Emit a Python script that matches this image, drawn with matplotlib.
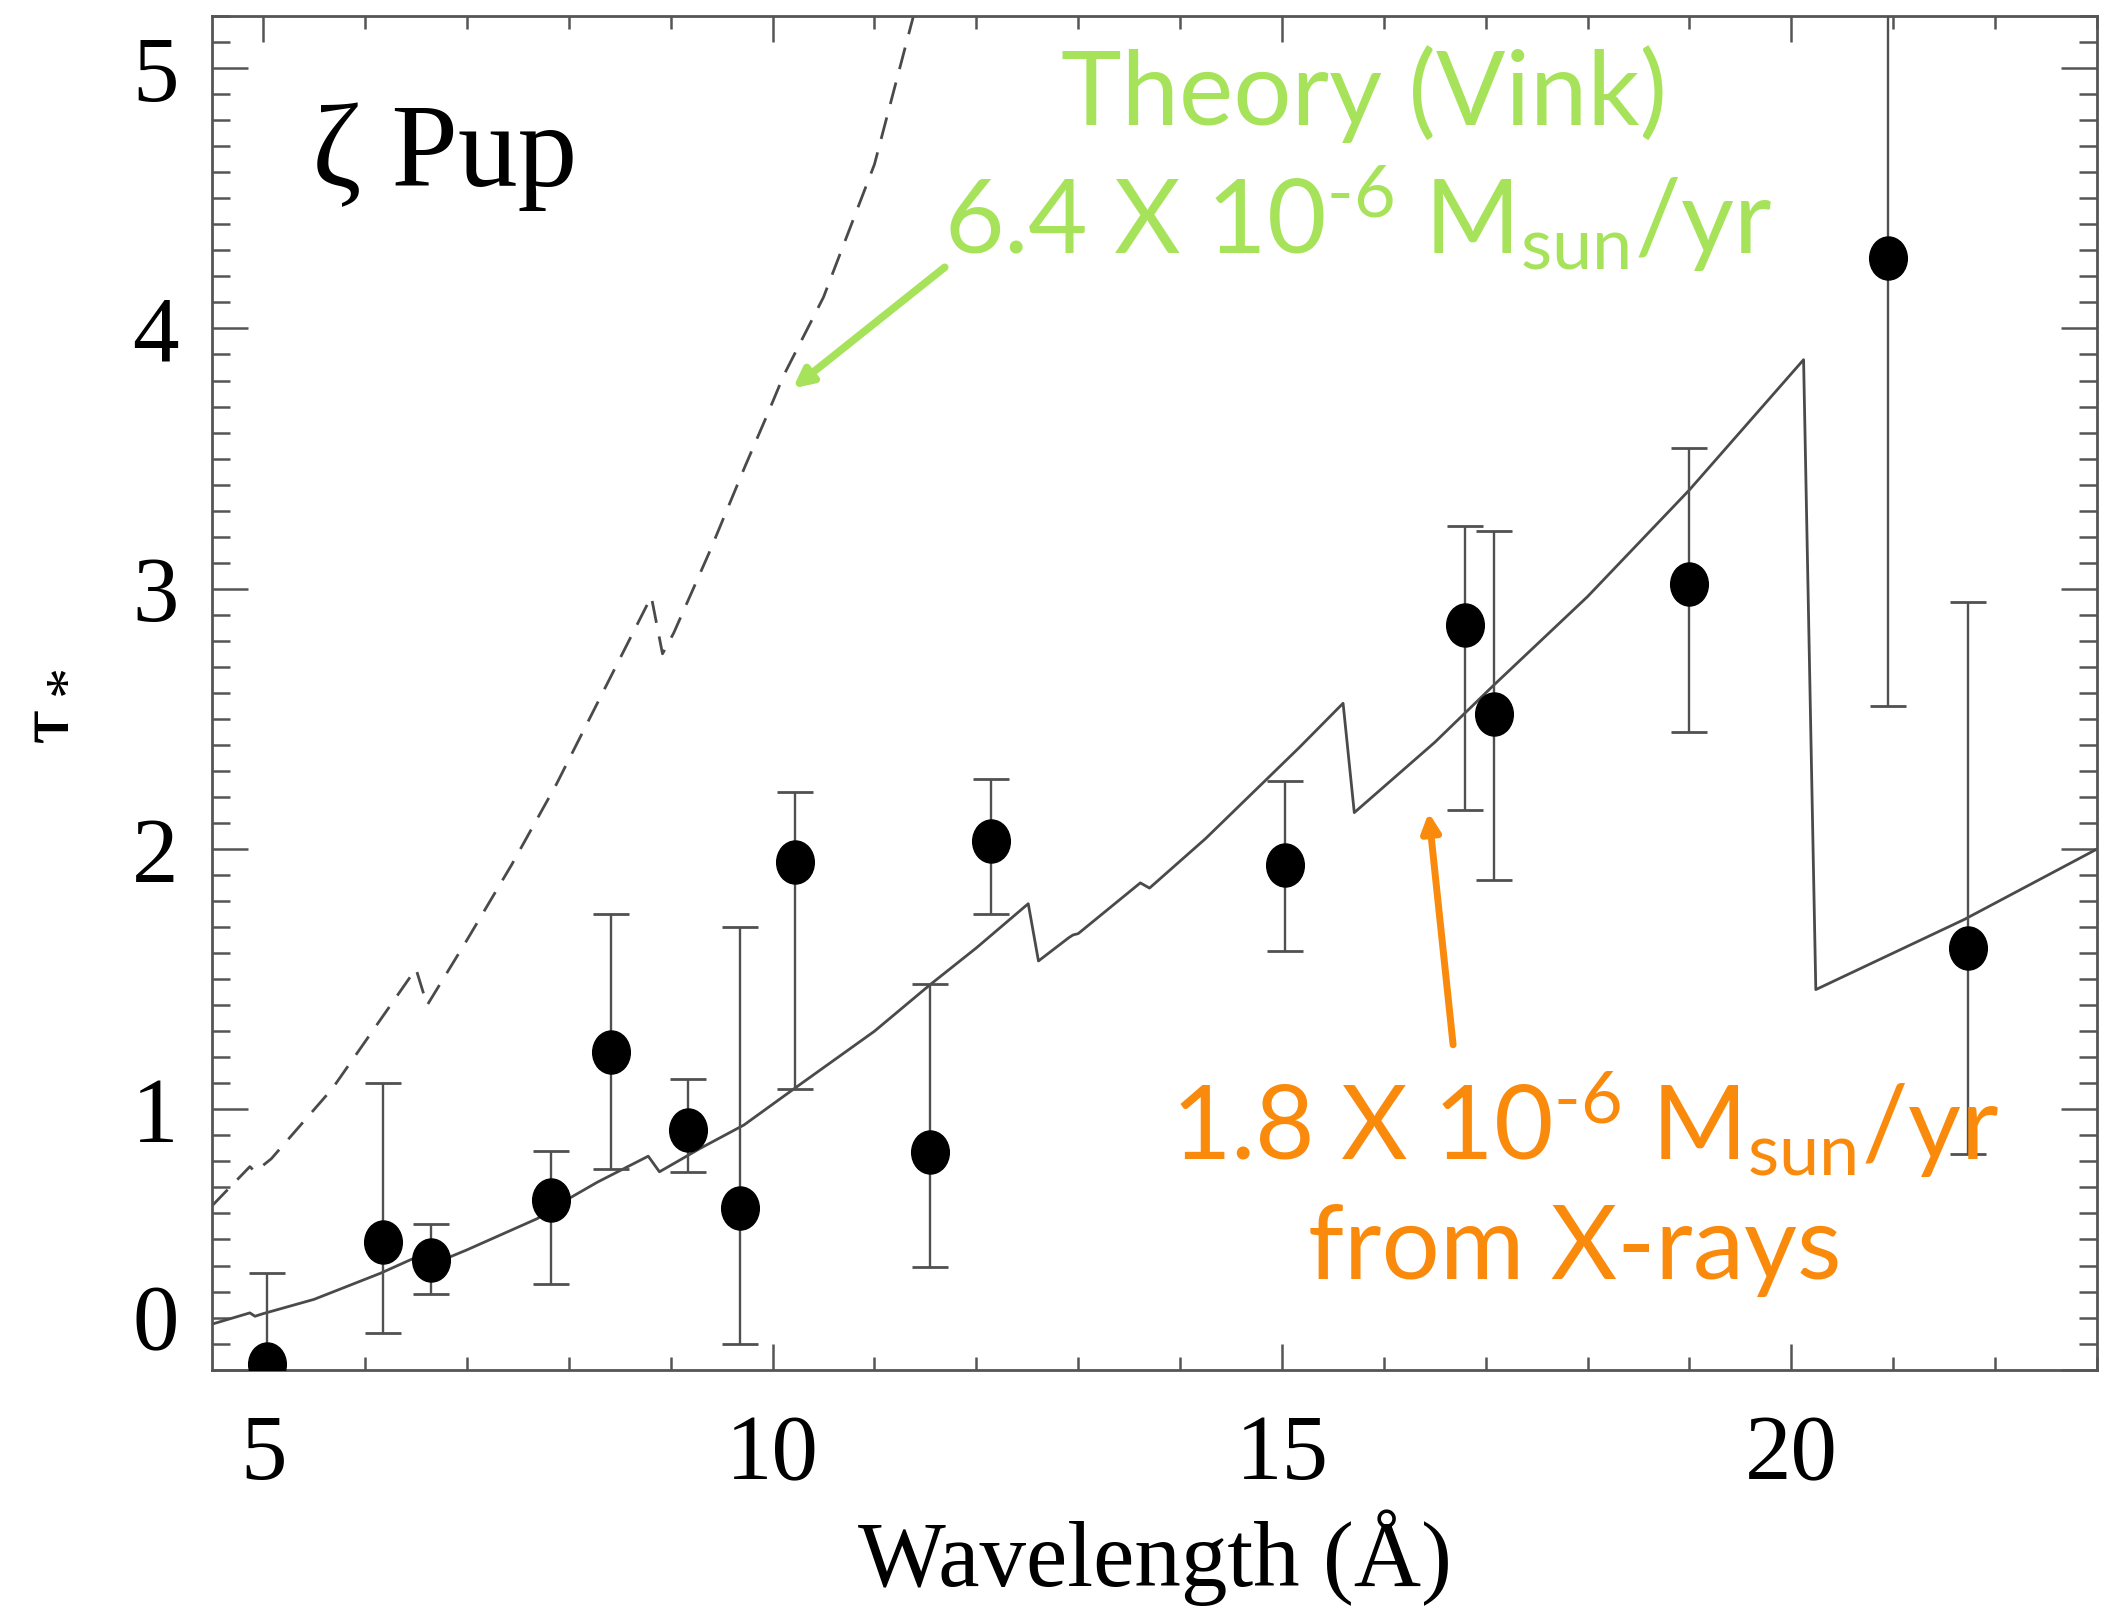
import matplotlib
matplotlib.use("Agg")
import matplotlib.pyplot as plt
from matplotlib.path import Path
from matplotlib.transforms import Affine2D
from matplotlib.ticker import MultipleLocator, FixedLocator

# Measured optical depths (tau_*) per line, with lower/upper error limits
wavelength = [5.04, 6.18, 6.65, 7.83, 8.41, 9.17, 9.68, 10.22, 11.55, 12.14,
              15.03, 16.80, 17.08, 19.00, 20.95, 21.73]
tau = [0.02, 0.49, 0.42, 0.65, 1.22, 0.92, 0.62, 1.95, 0.835, 2.03,
       1.94, 2.86, 2.52, 3.02, 4.27, 1.62]
tau_low = [-0.33, 0.14, 0.29, 0.33, 0.77, 0.76, 0.10, 1.08, 0.395, 1.75,
           1.61, 2.15, 1.88, 2.45, 2.55, 0.83]
tau_high = [0.37, 1.10, 0.56, 0.84, 1.75, 1.115, 1.70, 2.22, 1.48, 2.27,
            2.26, 3.24, 3.22, 3.54, 5.99, 2.95]

# Best-fit wind opacity model (1.8e-6 Msun/yr)
model_wl = [4.50, 4.87, 4.92, 5.00, 5.50, 6.15, 6.52, 6.60, 7.00, 7.69,
            7.88, 8.28, 8.78, 8.89, 9.29, 9.72, 10.25, 11.00, 11.55, 12.00,
            12.51, 12.61, 12.91, 12.95, 13.00, 13.61, 13.70, 14.25, 15.17,
            15.60, 15.71, 16.50, 17.08, 18.00, 19.00, 20.12, 20.24, 21.70,
            23.00]
model_tau = [0.175, 0.218, 0.205, 0.215, 0.27, 0.37, 0.435, 0.395, 0.46, 0.58,
             0.63, 0.72, 0.82, 0.76, 0.85, 0.94, 1.09, 1.30, 1.48, 1.62,
             1.79, 1.57, 1.66, 1.67, 1.675, 1.87, 1.85, 2.04, 2.39,
             2.56, 2.14, 2.41, 2.63, 2.97, 3.38, 3.88, 1.46, 1.73,
             2.00]

# Theoretical (Vink) mass-loss prediction, 6.4e-6 Msun/yr
vink_wl = [4.50, 4.87, 4.92, 5.08, 5.68, 6.50, 6.61, 7.00, 7.44, 7.88,
           8.28, 8.81, 8.92, 9.03, 9.38, 9.73, 9.95, 10.11, 10.50, 11.00,
           11.45]
vink_tau = [0.63, 0.78, 0.76, 0.81, 1.08, 1.54, 1.40, 1.65, 1.94, 2.25,
            2.56, 2.97, 2.75, 2.83, 3.14, 3.47, 3.67, 3.82, 4.12, 4.63,
            5.30]

x_ticks = [5, 10, 15, 20]
y_ticks = [0, 1, 2, 3, 4, 5]
y_tick_labels = ["0", "1", "2", "3", "4", "5"]

serif = ["Liberation Serif", "DejaVu Serif"]
sans = ["Lato", "DejaVu Sans"]
plt.rcParams["mathtext.fontset"] = "custom"
plt.rcParams["mathtext.rm"] = "Lato"
plt.rcParams["mathtext.it"] = "Lato:italic"
plt.rcParams["mathtext.bf"] = "Lato:bold"

GREEN = "#A7E35A"
ORANGE = "#F98A0C"
INK = "#4a4a4a"

fig = plt.figure(figsize=(21.05, 16.10), dpi=100)
ax = fig.add_axes([0.1008, 0.1493, 0.8954, 0.8407])

ax.plot(model_wl, model_tau, color=INK, lw=2.0, zorder=2)
ax.plot(vink_wl, vink_tau, color=INK, lw=2.0, dashes=(8, 5), zorder=2)

# slightly tall elliptical dots
dot = Path.unit_circle().transformed(Affine2D().scale(0.875, 1.0))
yerr = [[t - lo for t, lo in zip(tau, tau_low)],
        [hi - t for t, hi in zip(tau, tau_high)]]
ax.errorbar(wavelength, tau, yerr=yerr, fmt="none", ecolor="#505050",
            elinewidth=1.7, capsize=13, capthick=2.0, zorder=3)
ax.plot(wavelength, tau, linestyle="none", marker=dot, markersize=31,
        color="black", zorder=4)

ax.set_xlim(4.5, 23.0)
ax.set_ylim(0, 5.2)
ax.xaxis.set_major_locator(FixedLocator(x_ticks))
ax.xaxis.set_minor_locator(MultipleLocator(1))
ax.set_yticks(y_ticks)
ax.set_yticklabels(y_tick_labels)
ax.yaxis.set_minor_locator(MultipleLocator(0.1))

for side in ax.spines.values():
    side.set_linewidth(2.0)
    side.set_color("#555555")

ax.tick_params(which="both", direction="in", top=True, right=True,
               color="#555555", width=1.8)
ax.tick_params(axis="x", which="major", length=19, pad=32, labelsize=67)
ax.tick_params(axis="x", which="minor", length=9.5)
ax.tick_params(axis="y", which="major", length=26, pad=24, labelsize=67)
ax.tick_params(axis="y", which="minor", length=13)
for lab in ax.get_xticklabels() + ax.get_yticklabels():
    lab.set_fontfamily(serif)
ax.get_yticklabels()[0].set_verticalalignment("bottom")

ax.set_xlabel("Wavelength (Å)", fontsize=67, family=serif)
ax.xaxis.set_label_coords(0.5, -0.139)
ax.xaxis.label.set_verticalalignment("center")
ax.set_ylabel(r"$\mathregular{τ_*}$", fontsize=64, family=serif)
ax.yaxis.set_label_coords(-0.0897, 0.49)
ax.yaxis.label.set_verticalalignment("center")

ax.text(5.48, 4.66, "ζ Pup", fontsize=86, family=serif, ha="left",
        va="center")

ax.text(15.81, 4.90, "Theory (Vink)", fontsize=74, family=sans,
        color=GREEN, ha="center", va="center")
ax.text(15.75, 4.42, r"6.4 X 10$^{\text{-6}}$ M$_{\text{sun}}$/yr",
        fontsize=74, family=sans, color=GREEN, ha="center", va="center")
ax.annotate("", xy=(10.20, 3.77), xytext=(11.69, 4.235),
            arrowprops=dict(arrowstyle="-|>,head_length=1.1,head_width=0.55",
                            color=GREEN, lw=5.5, shrinkA=0, shrinkB=0))

ax.text(17.98, 0.94, r"1.8 X 10$^{\text{-6}}$ M$_{\text{sun}}$/yr",
        fontsize=74, family=sans, color=ORANGE, ha="center", va="center")
ax.text(17.87, 0.46, "from X-rays", fontsize=74, family=sans, color=ORANGE,
        ha="center", va="center")
ax.annotate("", xy=(16.44, 2.14), xytext=(16.68, 1.248),
            arrowprops=dict(arrowstyle="-|>,head_length=1.1,head_width=0.55",
                            color=ORANGE, lw=5.0, shrinkA=0, shrinkB=0))

fig.savefig("out.png", dpi=100)
